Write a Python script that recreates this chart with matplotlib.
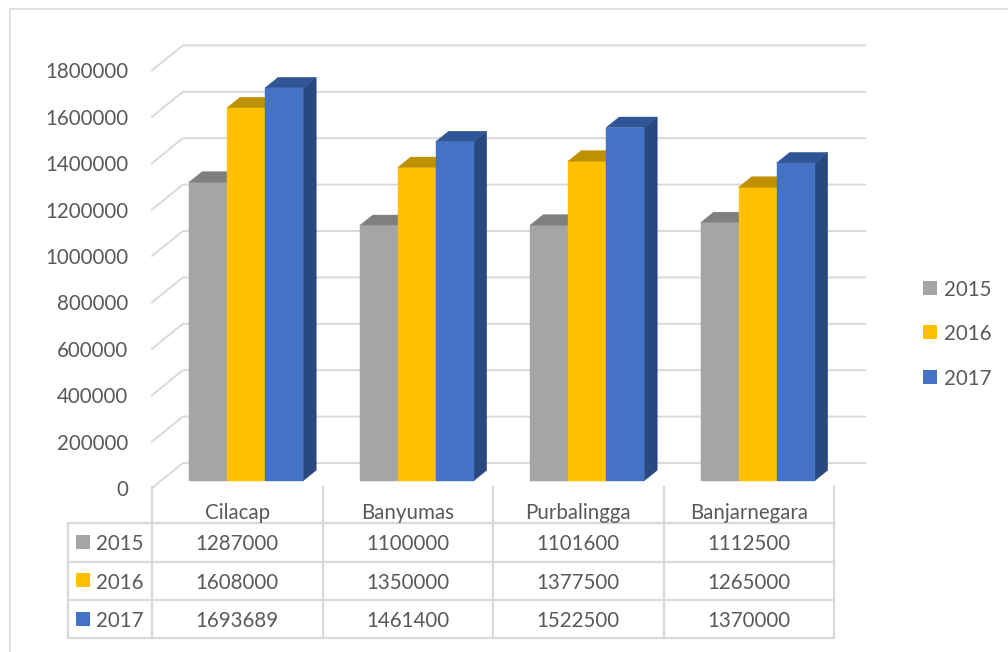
import matplotlib
matplotlib.use('Agg')
import matplotlib.pyplot as plt
from matplotlib.patches import Polygon, Rectangle

categories = ['Cilacap', 'Banyumas', 'Purbalingga', 'Banjarnegara']
years = ['2015', '2016', '2017']
v2015 = [1287000, 1100000, 1101600, 1112500]
v2016 = [1608000, 1350000, 1377500, 1265000]
v2017 = [1693689, 1461400, 1522500, 1370000]
yticks = list(range(0, 1800001, 200000))

front_c = ['#A5A5A5', '#FFC000', '#4472C4']
top_c = ['#7F7F7F', '#BF9000', '#2F5597']
side_c = ['#7C7C7C', '#BF9000', '#294880']
grid_c = '#D9D9D9'
text_c = '#595959'

plt.rcParams['font.family'] = ['Lato', 'DejaVu Sans']
FS = 14.8

# pixel scale of the front plane
PXC = 170.5            # pixels per category
VPX = 200000 / 46.4    # value per pixel
DX = 31 / PXC          # depth offset (category units)
DY = 25 * VPX          # depth offset (value units)
f0, f1 = 0.29, 0.71    # bar depth range
BW = 0.223             # bar width
GAP = 0.165


def P(x, y):
    # layout helper: pixel -> data
    return (x - 152) / PXC, (488 - y) * VPX


fig = plt.figure(figsize=(10.08, 6.52), dpi=100)
ax = fig.add_axes([0, 0, 1, 1])
ax.set_xlim(-152 / PXC, (1008 - 152) / PXC)
ax.set_ylim(-(652 - 488) * VPX, 488 * VPX)
ax.axis('off')

# chart border (left + top)
bx, by = P(10, 9)
ax.plot([bx, bx, P(1008, 0)[0]], [P(0, 652)[1], by, by], color=grid_c, lw=1.2)

# gridlines: side wall + back wall
ncat = len(categories)
for v in yticks:
    ax.plot([0, DX, ncat + DX], [v, v + DY, v + DY], color=grid_c, lw=1.4,
            zorder=1, solid_joinstyle='miter')
    ax.text(P(128, 0)[0], v - 8 * VPX, str(v), ha='right', va='baseline',
            fontsize=FS, color=text_c)

# bars
series = [v2015, v2016, v2017]
d = (f1 - f0) * DX
e = (f1 - f0) * DY
for c in range(ncat):
    for i, vals in enumerate(series):
        v = vals[c]
        x0 = c + GAP + i * BW + f0 * DX
        x1 = x0 + BW
        y0 = f0 * DY
        y1 = v + y0
        ax.add_patch(Polygon([(x1, y0), (x1 + d, y0 + e), (x1 + d, y1 + e), (x1, y1)],
                             closed=True, fc=side_c[i], ec=side_c[i], lw=0.3, zorder=3))
        ax.add_patch(Rectangle((x0, y0), BW, v, fc=front_c[i], ec=front_c[i],
                               lw=0.3, zorder=3))
        ax.add_patch(Polygon([(x0, y1), (x1, y1), (x1 + d, y1 + e), (x0 + d, y1 + e)],
                             closed=True, fc=top_c[i], ec=top_c[i], lw=0.3, zorder=3))

# data table
tl = dict(color=grid_c, lw=1.6, zorder=2)
ytop = P(0, 487)[1]
ybot = P(0, 638)[1]
for k in range(ncat + 1):
    ax.plot([k, k], [ytop, ybot], **tl)
xl = P(68, 0)[0]
for yp in [523, 562, 600, 638]:
    yy = P(0, yp)[1]
    ax.plot([xl, ncat], [yy, yy], **tl)
ax.plot([xl, xl], [P(0, 523)[1], ybot], **tl)

for k, name in enumerate(categories):
    ax.text(k + 0.5, P(0, 519)[1], name, ha='center', va='baseline',
            fontsize=FS, color=text_c)

row_base = [550, 589, 627]
key_top = [535, 573, 612]
for i, vals in enumerate(series):
    yb = P(0, row_base[i])[1]
    for k in range(ncat):
        ax.text(k + 0.5, yb, str(vals[k]), ha='center', va='baseline',
                fontsize=FS, color=text_c)
    kx, ky = P(76, key_top[i] + 14)
    ax.add_patch(Rectangle((kx, ky), 14 / PXC, 14 * VPX, fc=front_c[i], ec='none'))
    ax.text(P(96, 0)[0], yb, years[i], ha='left', va='baseline',
            fontsize=FS, color=text_c)

# legend on the right
leg_base = [296, 340, 385]
for i, yr in enumerate(years):
    kx, ky = P(923, leg_base[i] - 1)
    ax.add_patch(Rectangle((kx, ky), 14 / PXC, 14 * VPX, fc=front_c[i], ec='none'))
    ax.text(P(944, 0)[0], P(0, leg_base[i])[1], yr, ha='left', va='baseline',
            fontsize=FS, color=text_c)

fig.savefig('out.png', dpi=100, facecolor='white')
